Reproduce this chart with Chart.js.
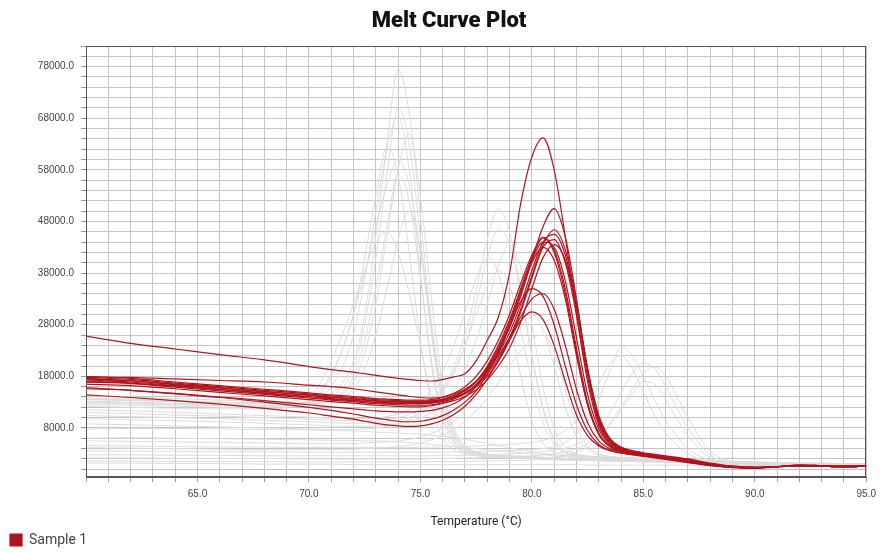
<!DOCTYPE html>
<html><head><meta charset="utf-8">
<script src="https://cdn.jsdelivr.net/npm/chart.js@4.4.1/dist/chart.umd.min.js"></script>
<style>html,body{margin:0;padding:0;background:#fff}#wrap{width:882px;height:552px;position:relative}</style>
</head><body><div id="wrap"><canvas id="c" width="882" height="552"></canvas></div>
<script>
// Chart title
const chartTitle = 'Melt Curve Plot';

// Temperature (°C) sample points shared by every curve
const temps = [60,62,64,66,68,70,71,72,72.5,73,73.5,74,74.5,75,75.5,76,76.5,77,77.5,78,78.5,79,79.5,80,80.5,81,81.5,82,82.5,83,83.5,84,84.5,85,85.5,86,87,88,89,90,91,92,93,94,95];

// Sample 1 (red) derivative curves
const s1a = [25800,24400,23300,22200,21200,19900,19300,18800,18500,18200,17900,17600,17400,17200,17100,17400,17900,18500,21000,25000,29500,38000,51500,60500,64200,58000,45000,30000,17000,8500,5000,3800,3200,2800,2500,2200,1600,900,400,300,500,700,600,600,700];
const s1b = [17800,17400,16700,16000,15300,14600,14200,13900,13700,13500,13400,13300,13200,13200,13300,13600,14300,15300,17000,19500,23000,27500,33500,40500,47000,50500,45000,33000,19000,9500,5500,4000,3300,3000,2700,2400,1800,1000,500,300,500,800,700,600,700];
const s1c = [17500,17100,16400,15700,15000,14300,13900,13600,13400,13200,13100,13000,12900,12900,13000,13300,13900,14800,16300,18500,21500,25500,31000,37500,43500,46400,42500,32500,19500,10000,5800,4200,3500,3100,2800,2500,1900,1100,600,400,500,800,700,600,700];
const s1d = [18000,17600,16900,16200,15500,14800,14400,14100,13900,13700,13600,13500,13400,13400,13500,13900,14700,16000,18000,21000,25000,30000,36000,41500,45000,42500,35000,23500,13000,7000,4500,3600,3100,2800,2500,2200,1600,900,400,300,500,700,600,500,600];
const s1e = [17300,16900,16200,15500,14800,14100,13700,13400,13200,13000,12900,12800,12700,12700,12800,13100,13700,14600,16000,18000,21000,25000,30500,37000,43000,44500,40000,30000,18000,9000,5200,3900,3300,2900,2600,2300,1700,1000,500,300,500,700,600,500,600];
const s1f = [17600,17200,16500,15800,15100,14400,14000,13700,13500,13300,13200,13100,13100,13100,13200,13500,14200,15300,17000,19800,23500,28500,34500,40500,44000,43000,36500,25500,14500,7800,4800,3700,3200,2800,2500,2200,1600,900,400,300,500,700,600,500,600];
const s1g = [16900,16600,15900,15200,14500,13800,13400,13100,12900,12700,12600,12500,12400,12400,12500,12800,13300,14100,15400,17300,20000,23500,28500,35000,41000,43500,40500,31500,19500,10500,6000,4300,3600,3200,2900,2600,2000,1200,600,400,500,800,700,600,700];
const s1h = [17900,17800,17500,17200,16900,16300,16000,15600,15300,15000,14700,14400,14100,13900,13800,14000,14600,15500,17000,19300,22500,26500,32000,38500,44000,45500,41500,31500,19000,9800,5600,4100,3400,3000,2700,2400,1800,1000,500,300,500,700,600,500,600];
const s1i = [15600,15300,14700,14000,13300,12500,12100,11700,11500,11300,11200,11100,11100,11200,11400,11900,12700,14000,16000,19000,23000,28000,34000,40000,43000,40500,33000,22000,12500,6800,4400,3500,3000,2700,2400,2100,1500,800,400,300,500,700,600,500,600];
const s1j = [15800,15300,14600,13900,13000,12000,11400,10700,10300,9900,9600,9300,9200,9300,9700,10400,11500,13000,15200,18500,22500,27500,32500,35000,33500,28000,20000,12500,7500,4800,3700,3200,2900,2600,2300,2000,1400,800,400,300,500,700,600,500,600];
const s1k = [16500,16200,15600,14900,14200,13500,13100,12800,12600,12400,12300,12200,12100,12100,12300,12800,13600,14800,16500,19000,22000,25500,29500,33000,34000,31000,24000,15500,9000,5500,4000,3400,3000,2700,2400,2100,1500,800,400,300,500,700,600,500,600];
const s1l = [14400,13900,13300,12600,11800,10900,10300,9700,9300,8900,8600,8400,8300,8400,8800,9500,10600,12200,14500,17500,21000,25000,28800,30500,29000,24000,17000,10500,6500,4500,3600,3100,2800,2500,2200,1900,1300,700,300,200,400,700,600,500,600];
const s1m = [17000,16700,16100,15400,14700,14000,13600,13300,13100,12900,12800,12700,12700,12700,12900,13300,14000,15200,17000,20000,24000,29000,35000,41000,44800,42000,34000,22500,12500,6800,4400,3500,3000,2700,2400,2100,1500,800,400,300,500,700,600,500,600];

// Other samples (grey) derivative curves
const oA1 = [13800,13600,13300,13000,12800,13000,14500,21000,30000,45000,63000,77500,69000,49000,28000,13000,6500,4000,3200,2900,2700,2600,2500,2400,2300,2200,2100,2000,1900,1900,1800,1800,1700,1700,1600,1600,1500,1400,1300,1200,1200,1100,1100,1000,1000];
const oA2 = [13200,13000,12800,12600,12400,12700,14000,19500,28000,41000,57000,70000,63000,45000,26000,12500,6000,3800,3000,2700,2500,2400,2300,2200,2100,2000,1900,1800,1800,1700,1700,1600,1600,1500,1500,1400,1300,1200,1100,1000,1000,900,900,800,800];
const oA3 = [12600,12400,12200,12000,11900,12800,16000,26000,37000,50000,62000,68500,58000,38000,20000,9500,5000,3300,2700,2400,2300,2200,2100,2000,1900,1800,1800,1700,1700,1600,1600,1500,1500,1400,1400,1300,1200,1100,1000,900,900,800,800,700,700];
const oA4 = [14200,14000,13700,13400,13100,13000,13600,17000,22500,32000,45000,58000,65000,53000,33000,16500,7500,4200,3200,2800,2600,2500,2400,2300,2200,2100,2000,1900,1900,1800,1800,1700,1700,1600,1600,1500,1400,1300,1200,1100,1100,1000,1000,900,900];
const oA5 = [12200,12000,11800,11700,11700,13500,18500,30000,41000,53000,62500,57000,42000,25000,12500,6000,3800,3000,2600,2400,2300,2200,2100,2000,1900,1900,1800,1800,1700,1700,1600,1600,1500,1500,1400,1400,1300,1200,1100,1000,1000,900,900,800,800];
const oA6 = [13000,12800,12600,12400,12300,12500,13500,18000,25000,35000,47000,57000,52000,37000,21000,10500,5500,3500,2800,2500,2400,2300,2200,2100,2000,2000,1900,1900,1800,1800,1700,1700,1600,1600,1500,1500,1400,1300,1200,1100,1100,1000,1000,900,900];
const oA7 = [13500,13300,13100,12900,12700,12700,13200,15500,19500,26000,35000,44500,50000,43000,28000,14500,7000,4200,3300,2900,2700,2600,2500,2400,2300,2200,2100,2000,2000,1900,1900,1800,1800,1700,1700,1600,1500,1400,1300,1200,1200,1100,1100,1000,1000];
const oA8 = [12900,12700,12500,12300,12200,13000,18000,30000,38000,47000,55000,60000,55000,42000,27000,15000,8000,4500,3400,2900,2700,2600,2500,2400,2300,2200,2100,2000,2000,1900,1900,1800,1800,1700,1700,1600,1500,1400,1300,1200,1200,1100,1100,1000,1000];
const oA9 = [13600,13400,13200,13000,12900,14000,21000,32000,38500,44000,46000,42000,34000,24000,14000,7500,4500,3400,2900,2600,2500,2400,2300,2200,2100,2000,2000,1900,1900,1800,1800,1700,1700,1600,1600,1500,1400,1300,1200,1100,1100,1000,1000,900,900];
const oB1 = [11000,10800,10500,10300,10000,9700,9500,9400,9400,9500,9700,10000,10600,11600,13200,15800,19800,26000,34500,44500,50500,46000,35000,22000,11500,5500,3300,2700,2500,2400,2300,2200,2200,2100,2100,2000,1900,1700,1500,1400,1300,1200,1200,1100,1100];
const oB2 = [10400,10200,10000,9800,9500,9200,9000,8900,8900,9000,9200,9500,10000,11000,12500,15000,18500,24000,32000,41000,46500,43500,34000,22000,12000,6000,3500,2800,2500,2400,2300,2200,2200,2100,2100,2000,1900,1700,1500,1400,1300,1200,1200,1100,1100];
const oB3 = [9800,9600,9400,9200,8900,8600,8400,8300,8300,8400,8500,8800,9200,9900,11000,12800,15500,19500,25000,32000,39500,43500,39000,28000,16000,8000,4200,3000,2600,2400,2300,2200,2200,2100,2100,2000,1800,1600,1400,1300,1200,1100,1100,1000,1000];
const oB4 = [11500,11300,11000,10700,10400,10100,9900,9800,9800,9900,10200,10700,11500,13000,15500,19000,24000,30500,37000,41000,38000,29000,18000,9500,5000,3300,2800,2600,2400,2300,2200,2100,2100,2000,2000,1900,1800,1600,1400,1300,1200,1100,1100,1000,1000];
const oB5 = [8800,8600,8400,8200,8000,7800,7700,7700,7800,8000,8300,8800,9600,10800,12600,15200,19000,24000,30000,35500,38500,35500,27000,17000,9000,4800,3200,2700,2500,2400,2300,2200,2100,2100,2000,2000,1800,1600,1400,1300,1200,1100,1100,1000,1000];
const oC1 = [5500,5400,5300,5200,5100,5000,5000,5000,5100,5200,5300,5500,5800,6200,6900,7900,9300,11300,14000,17500,21500,25500,29000,30000,27000,20000,12000,6500,3800,2800,2400,2200,2100,2000,1900,1800,1600,1400,1200,1100,1000,1000,900,900,800];
const oC2 = [4200,4100,4000,3900,3800,3800,3800,3900,4000,4100,4200,4400,4700,5100,5700,6500,7700,9300,11300,13800,16800,20000,23000,25300,26000,22500,15500,8500,4500,3000,2500,2300,2200,2100,2000,1900,1700,1500,1300,1200,1100,1000,1000,900,900];
const oD1 = [3600,3500,3500,3400,3400,3300,3300,3300,3300,3300,3300,3300,3300,3300,3300,3300,3400,3400,3400,3500,3500,3600,3700,3800,4000,4400,5200,6800,9500,13500,19000,23700,22000,18000,13500,9500,4000,1800,1100,900,800,800,700,700,700];
const oD2 = [2800,2800,2700,2700,2600,2600,2600,2600,2600,2600,2600,2600,2600,2600,2600,2700,2700,2700,2800,2800,2900,3000,3100,3200,3400,3700,4100,4800,6000,8000,11000,14800,18500,20600,19500,16000,8000,2800,1300,1000,900,800,800,700,700];
const oD3 = [2200,2200,2100,2100,2100,2000,2000,2000,2000,2000,2000,2000,2000,2000,2100,2100,2100,2200,2200,2300,2300,2400,2500,2600,2800,3000,3400,4000,5000,6500,9000,12000,15500,18500,19800,18000,10000,3500,1500,1000,900,800,700,700,700];
const oD4 = [4600,4500,4400,4300,4300,4200,4200,4200,4200,4200,4200,4200,4200,4300,4300,4300,4400,4400,4500,4600,4700,4800,5000,5200,5600,6300,7500,9500,12500,16500,20500,22000,19500,15000,10500,7000,3000,1500,1000,800,800,700,700,600,600];
const oD5 = [1600,1600,1500,1500,1500,1400,1400,1400,1400,1400,1400,1400,1400,1400,1500,1500,1500,1500,1600,1600,1600,1700,1700,1800,2000,2300,2700,3300,4300,6000,8500,11500,14500,17000,16500,13500,6500,2200,1100,800,700,700,600,600,600];
const oL1 = [7800,7900,7900,7800,7700,7600,7500,7400,7300,7200,7100,7000,6900,6800,6600,6400,6100,5800,5400,5000,4600,4200,3800,3400,3100,2800,2600,2400,2300,2200,2100,2000,1900,1900,1800,1800,1700,1500,1300,1200,1100,1100,1000,1000,1000];
const oL2 = [1200,1200,1100,1100,1000,1000,1000,900,900,900,900,900,900,900,900,900,900,900,900,900,900,900,900,900,900,900,900,900,800,800,800,800,800,800,800,800,800,700,700,700,700,600,600,600,600];
const oL3 = [6000,6100,6000,5900,5800,5700,5600,5600,5500,5500,5400,5300,5200,5000,4800,4600,4400,4200,4000,3800,3600,3400,3200,3000,2800,2600,2400,2300,2200,2100,2000,1900,1900,1800,1800,1700,1600,1400,1200,1100,1000,1000,900,900,900];

const sample1Curves = [s1a,s1b,s1c,s1d,s1e,s1f,s1g,s1h,s1i,s1j,s1k,s1l,s1m];
const otherCurves = [oA1,oA2,oA3,oA4,oA5,oA6,oA7,oA8,oA9,oB1,oB2,oB3,oB4,oB5,oC1,oC2,oD1,oD2,oD3,oD4,oD5,oL1,oL2,oL3];

// Axis ticks and labels
const xTickValues = [60,61,62,63,64,65,66,67,68,69,70,71,72,73,74,75,76,77,78,79,80,81,82,83,84,85,86,87,88,89,90,91,92,93,94,95];
const xLabelled = [65,70,75,80,85,90,95];
const yTickValues = [0,2000,4000,6000,8000,10000,12000,14000,16000,18000,20000,22000,24000,26000,28000,30000,32000,34000,36000,38000,40000,42000,44000,46000,48000,50000,52000,54000,56000,58000,60000,62000,64000,66000,68000,70000,72000,74000,76000,78000,80000,82000];
const yLabelled = [8000,18000,28000,38000,48000,58000,68000,78000];

const toPoints = arr => arr.map((v,i) => ({x: temps[i], y: v}));

const datasets = [];
sample1Curves.forEach((c,i) => datasets.push({
  label: i === 0 ? 'Sample 1' : 'Sample 1 #' + (i+1),
  data: toPoints(c), borderColor: '#b0141e', backgroundColor: '#b0141e',
  borderWidth: 1.2, pointRadius: 0, fill: false, cubicInterpolationMode: 'monotone'
}));
otherCurves.forEach((c,i) => datasets.push({
  label: 'other ' + (i+1),
  data: toPoints(c), borderColor: '#dcdcdc', backgroundColor: '#dcdcdc',
  borderWidth: 1, pointRadius: 0, fill: false, cubicInterpolationMode: 'monotone'
}));

const framePlugin = {
  id: 'frame',
  afterDatasetsDraw(chart) {
    const {ctx, chartArea: a} = chart;
    ctx.save();
    ctx.strokeStyle = '#555';
    ctx.lineWidth = 1;
    ctx.strokeRect(Math.round(a.left) + 0.5, Math.round(a.top) + 0.5, Math.round(a.right - a.left) - 1, Math.round(a.bottom - a.top) - 1);
    ctx.restore();
  },
  afterDraw(chart) {
    const ctx = chart.ctx;
    ctx.save();
    ctx.fillStyle = '#111';
    ctx.font = '900 22px Roboto';
    ctx.textAlign = 'center';
    ctx.textBaseline = 'middle';
    ctx.fillText(chartTitle, 449, 21);
    ctx.restore();
  }
};

new Chart(document.getElementById('c'), {
  type: 'line',
  data: { datasets },
  plugins: [framePlugin],
  options: {
    responsive: false, animation: false, devicePixelRatio: 1,
    layout: { padding: { left: 0, right: 14, top: 46, bottom: 0 } },
    plugins: {
      title: { display: false },
      legend: { display: true, position: 'bottom', align: 'start', maxHeight: 29,
        labels: { filter: item => item.datasetIndex === 0, boxWidth: 12, boxHeight: 12, padding: 10,
          color: '#444', font: { family: 'Roboto', size: 14 } } },
      tooltip: { enabled: false }
    },
    scales: {
      x: {
        type: 'linear', min: 60, max: 95,
        afterBuildTicks: s => { s.ticks = xTickValues.map(v => ({value: v})); },
        afterFit: s => { s.height = 46; },
        ticks: { autoSkip: false, maxRotation: 0, padding: 6, color: '#444',
          font: { family: 'Liberation Sans', size: 10 },
          callback: v => xLabelled.includes(v) ? v.toFixed(1) : '' },
        grid: { color: '#c4c4c4', tickLength: 5, tickColor: '#999' },
        border: { color: '#555' },
        title: { display: true, text: 'Temperature (°C)', color: '#222',
          font: { family: 'Roboto', size: 12 }, padding: { top: 0, bottom: -6 } }
      },
      y: {
        type: 'linear', min: -1500, max: 82000,
        afterBuildTicks: s => { s.ticks = yTickValues.map(v => ({value: v})); },
        afterFit: s => { s.width = 86; },
        ticks: { autoSkip: false, padding: 7, color: '#444',
          font: { family: 'Liberation Sans', size: 10 },
          callback: v => yLabelled.includes(v) ? v.toFixed(1) : '' },
        grid: { color: '#c4c4c4', tickLength: 5, tickColor: '#999' },
        border: { color: '#555' }
      }
    }
  }
});
</script>
</body></html>
